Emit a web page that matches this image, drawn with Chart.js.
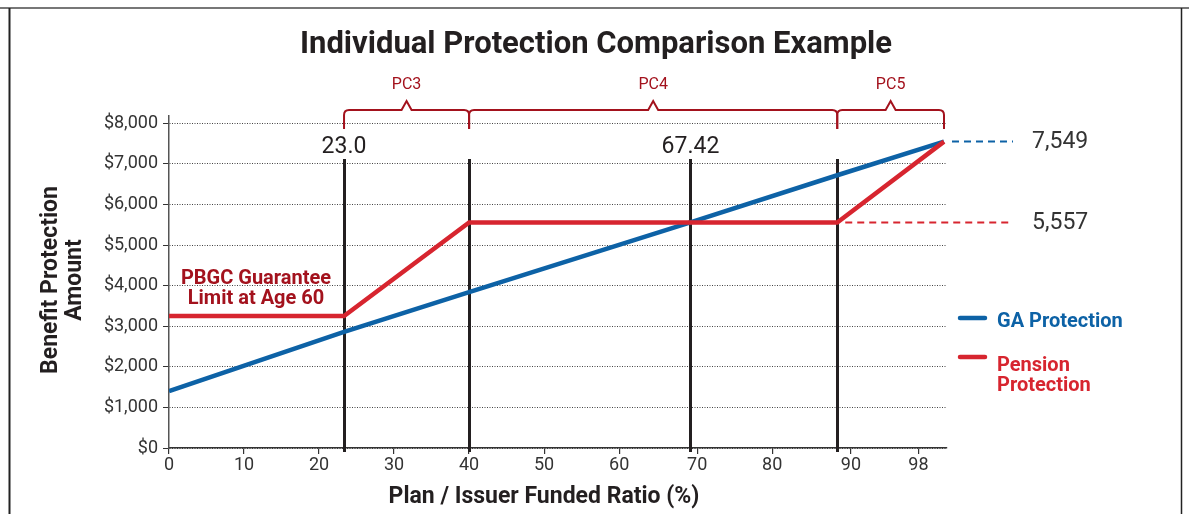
<!DOCTYPE html>
<html>
<head>
<meta charset="utf-8">
<script src="https://cdn.jsdelivr.net/npm/chart.js@4.4.1/dist/chart.umd.min.js"></script>
<style>
  body { margin: 0; background: #fff; }
  #wrap { width: 1189px; height: 514px; position: relative; }
</style>
</head>
<body>
<div id="wrap"><canvas id="protChart"></canvas></div>
<script>
// Données du graphique
const gaX = [0, 23.33, 40, 69.5, 89.07, 103.3];
const gaY = [1400, 2860, 3840, 5557, 6720, 7549];
const pensionX = [0, 23.33, 40, 89.07, 103.3];
const pensionY = [3250, 3250, 5557, 5557, 7549];

const markerX = [23.33, 40, 69.5, 89.07];
const markerLabels = ['23.0', '', '67.42', ''];
const bandEdges = [23.33, 40, 89.07, 103.3];
const bandLabels = ['PC3', 'PC4', 'PC5'];

const xTickValues = [0, 10, 20, 30, 40, 50, 60, 70.4, 80.4, 90.9, 99.9];
const xTickLabels = ['0', '10', '20', '30', '40', '50', '60', '70', '80', '90', '98'];
const yTickValues = [0, 1000, 2000, 3000, 4000, 5000, 6000, 7000, 8000];

const endValues = [7549, 5557];
const endLabels = ['7,549', '5,557'];
const leaderFrom = [103.3, 89.07];

const FONT = 'Roboto, "DejaVu Sans", sans-serif';
const BLUE = '#0d62a6';
const RED = '#d7252f';
const DARKRED = '#a3121d';
const INK = '#333';

const decor = {
  id: 'decor',
  beforeDatasetsDraw(chart) {
    const ctx = chart.ctx, xs = chart.scales.x, area = chart.chartArea;
    ctx.save();
    ctx.strokeStyle = '#231f20';
    ctx.lineWidth = 3;
    markerX.forEach(v => {
      const px = Math.round(xs.getPixelForValue(v)) + 0.5;
      ctx.beginPath();
      ctx.moveTo(px, 159);
      ctx.lineTo(px, area.bottom + 4);
      ctx.stroke();
    });
    ctx.restore();
  },
  afterDraw(chart) {
    const ctx = chart.ctx, xs = chart.scales.x, ys = chart.scales.y, area = chart.chartArea;
    ctx.save();

    // cadre
    ctx.strokeStyle = '#777';
    ctx.lineWidth = 2;
    ctx.beginPath(); ctx.moveTo(0, 8); ctx.lineTo(1189, 8); ctx.stroke();
    ctx.strokeStyle = '#222';
    ctx.beginPath(); ctx.moveTo(9.5, 8); ctx.lineTo(9.5, 514); ctx.stroke();
    ctx.lineWidth = 1.5;
    ctx.beginPath(); ctx.moveTo(1181.5, 8); ctx.lineTo(1181.5, 514); ctx.stroke();

    // titre
    ctx.fillStyle = '#231f20';
    ctx.textAlign = 'center';
    ctx.textBaseline = 'middle';
    ctx.font = 'bold 31px ' + FONT;
    ctx.fillText('Individual Protection Comparison Example', 596, 45);

    // titres des axes
    ctx.font = 'bold 23px ' + FONT;
    ctx.fillText('Plan / Issuer Funded Ratio (%)', 544, 497);
    ctx.save();
    ctx.translate(51, 280);
    ctx.rotate(-Math.PI / 2);
    ctx.fillText('Benefit Protection', 0, 0);
    ctx.fillText('Amount', 0, 24);
    ctx.restore();

    // accolades PC3 / PC4 / PC5
    ctx.strokeStyle = DARKRED;
    ctx.lineWidth = 2;
    ctx.lineJoin = 'miter';
    const yb = 110;
    for (let i = 0; i < bandLabels.length; i++) {
      const x1 = xs.getPixelForValue(bandEdges[i]);
      const x2 = xs.getPixelForValue(bandEdges[i + 1]);
      const mid = (x1 + x2) / 2;
      ctx.beginPath();
      ctx.moveTo(x1, 129);
      ctx.lineTo(x1, yb + 5);
      ctx.quadraticCurveTo(x1, yb, x1 + 5, yb);
      ctx.lineTo(mid - 5, yb);
      ctx.lineTo(mid, yb - 9);
      ctx.lineTo(mid + 5, yb);
      ctx.lineTo(x2 - 5, yb);
      ctx.quadraticCurveTo(x2, yb, x2, yb + 5);
      ctx.lineTo(x2, 129);
      ctx.stroke();
      ctx.fillStyle = DARKRED;
      ctx.font = '16px ' + FONT;
      ctx.fillText(bandLabels[i], mid, 85);
    }

    // étiquettes des repères
    ctx.fillStyle = '#231f20';
    ctx.font = '23px ' + FONT;
    markerX.forEach((v, i) => {
      if (markerLabels[i]) ctx.fillText(markerLabels[i], xs.getPixelForValue(v), 147);
    });

    // pointillés vers les valeurs finales
    ctx.lineWidth = 2;
    ctx.setLineDash([7, 5]);
    [BLUE, RED].forEach((c, i) => {
      const py = ys.getPixelForValue(endValues[i]);
      ctx.strokeStyle = c;
      ctx.beginPath();
      ctx.moveTo(xs.getPixelForValue(leaderFrom[i]) + 8, py);
      ctx.lineTo(area.right + 66, py);
      ctx.stroke();
    });
    ctx.setLineDash([]);
    ctx.textAlign = 'left';
    ctx.fillStyle = '#333';
    ctx.font = '23px ' + FONT;
    endLabels.forEach((t, i) => {
      ctx.fillText(t, area.right + 85, ys.getPixelForValue(endValues[i]) + 1);
    });

    // légende
    ctx.lineWidth = 4.5;
    ctx.lineCap = 'round';
    ctx.strokeStyle = BLUE;
    ctx.beginPath(); ctx.moveTo(960, 318); ctx.lineTo(985, 318); ctx.stroke();
    ctx.strokeStyle = RED;
    ctx.beginPath(); ctx.moveTo(960, 357); ctx.lineTo(985, 357); ctx.stroke();
    ctx.font = 'bold 20px ' + FONT;
    ctx.fillStyle = BLUE;
    ctx.fillText('GA Protection', 997, 322);
    ctx.fillStyle = RED;
    ctx.fillText('Pension', 997, 366);
    ctx.fillText('Protection', 997, 386);

    // note PBGC
    ctx.textAlign = 'center';
    ctx.fillStyle = DARKRED;
    ctx.font = 'bold 20px ' + FONT;
    ctx.fillText('PBGC Guarantee', 256, 279);
    ctx.fillText('Limit at Age 60', 256, 299);

    ctx.restore();
  }
};

document.addEventListener('DOMContentLoaded', function () {
  const ctx = document.getElementById('protChart').getContext('2d');
  new Chart(ctx, {
    type: 'line',
    data: {
      datasets: [{
        label: 'Pension Protection',
        data: pensionX.map((x, i) => ({ x: x, y: pensionY[i] })),
        borderColor: RED,
        borderWidth: 4.5,
        pointRadius: 0,
        fill: false,
        order: 1
      }, {
        label: 'GA Protection',
        data: gaX.map((x, i) => ({ x: x, y: gaY[i] })),
        borderColor: BLUE,
        borderWidth: 4.5,
        pointRadius: 0,
        fill: false,
        order: 2
      }]
    },
    options: {
      responsive: true,
      maintainAspectRatio: false,
      animation: false,
      layout: { padding: { left: 0, right: 242, top: 116, bottom: 0 } },
      plugins: {
        legend: { display: false },
        title: { display: false },
        tooltip: { enabled: false }
      },
      scales: {
        x: {
          type: 'linear',
          min: 0,
          max: 103.7,
          afterFit: s => { s.height = 66; },
          afterBuildTicks: s => { s.ticks = xTickValues.map(v => ({ value: v })); },
          grid: { drawOnChartArea: false, tickLength: 6, color: '#333', lineWidth: 1.2 },
          border: { color: '#333', width: 1.5 },
          ticks: {
            color: INK,
            font: { family: FONT, size: 18 },
            padding: 1,
            maxRotation: 0,
            autoSkip: false,
            callback: (v, i) => xTickLabels[i]
          }
        },
        y: {
          min: 0,
          max: 8180,
          afterFit: s => { s.width = 169; },
          afterBuildTicks: s => { s.ticks = yTickValues.map(v => ({ value: v })); },
          grid: { color: '#444', lineWidth: 1, tickLength: 6, tickColor: '#333', tickBorderDash: [] },
          border: { color: '#555', width: 1.5, dash: [1, 1.5] },
          ticks: {
            color: INK,
            font: { family: FONT, size: 18 },
            padding: 5,
            callback: v => '$' + v.toLocaleString('en-US')
          }
        }
      }
    },
    plugins: [decor]
  });
});
</script>
</body>
</html>
